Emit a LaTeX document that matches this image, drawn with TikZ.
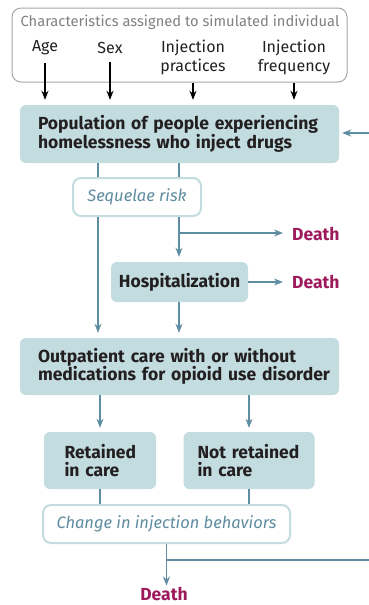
\documentclass[tikz,border=0pt]{standalone}
\usepackage{fontspec}
\setmainfont{Fira Sans}
\usetikzlibrary{arrows.meta,positioning}
\definecolor{boxteal}{RGB}{194,220,224}
\definecolor{linkblue}{RGB}{94,140,160}
\definecolor{deathred}{RGB}{158,26,92}
\definecolor{inkgray}{RGB}{128,128,128}
\definecolor{inkdark}{RGB}{35,31,32}

\begin{document}
\begin{tikzpicture}[x=1pt, y=-1pt,
    stage/.style={fill=boxteal, rounded corners=6pt, inner ysep=0pt, text=inkdark,
      font=\bfseries\fontsize{17.5}{18.5}\selectfont},
    risk/.style={draw=boxteal, line width=2pt, fill=white, rounded corners=8pt,
      inner sep=0pt, text=linkblue, font=\itshape\fontsize{16.5}{18}\selectfont},
    trait/.style={inner sep=0pt, text=inkdark, align=center,
      font=\fontsize{16}{19}\selectfont},
    death/.style={inner sep=0pt, text=deathred, font=\bfseries\fontsize{17.5}{18}\selectfont},
    link/.style={draw=linkblue, line width=1.3pt},
    flow/.style={link, -{Stealth[length=9pt,width=7pt]}},
    feed/.style={draw=black, line width=1.3pt, -{Stealth[length=9pt,width=7pt]}}]
  \useasboundingbox (0,0) rectangle (369,605);

  % Characteristics frame
  \node[draw=inkgray!70, line width=1pt, rounded corners=9pt, minimum width=335pt,
    minimum height=74pt] (chars) at (179.5,45) {};
  \node[inner sep=0pt, text=inkgray, font=\fontsize{14.7}{16}\selectfont] (title) at (180,22)
    {Characteristics assigned to simulated individual};
  \node[trait] (age) at (45,48) {Age};
  \node[trait] (sex) at (110,48) {Sex};
  \node[trait] (prac) at (193,57) {Injection\\practices};
  \node[trait] (freq) at (294,57) {Injection\\frequency};

  % Main stages
  \node[stage, minimum width=319pt, minimum height=58pt, text width=283pt, inner xsep=18pt,
    align=left] (pop) at (179.5,134) {Population of people experiencing\\homelessness who inject drugs};
  \node[risk, minimum width=128pt, minimum height=38pt] (seq) at (137,197) {Sequelae risk};
  \node[stage, minimum width=137pt, minimum height=40pt] (hosp) at (179.5,282) {Hospitalization};
  \node[stage, minimum width=319pt, minimum height=57pt, text width=283pt, inner xsep=18pt,
    align=left] (out) at (179.5,366.5) {Outpatient care with or without\\\mbox{medications for opioid use disorder}};
  \node[stage, minimum width=112pt, minimum height=57pt, text width=71pt, inner xsep=20.5pt,
    align=left] (ret) at (100,460.5) {Retained\\in care};
  \node[stage, minimum width=131pt, minimum height=57pt, text width=103pt, inner xsep=14pt,
    align=left] (notret) at (249,460.5) {Not retained\\in care};
  \node[risk, minimum width=247pt, minimum height=38pt] (chg) at (166.5,524) {Change in injection behaviors};

  % Deaths
  \node[death, anchor=west] (death1) at (292,234) {Death};
  \node[death, anchor=west] (death2) at (292,282) {Death};
  \node[death] (death3) at (164,594.5) {Death};

  % Helper points
  \coordinate (xl) at (98,0);
  \coordinate (xr) at (179,0);
  \coordinate (split1) at (179,233);
  \coordinate (split2) at (166.5,560);
  \coordinate (rimlow) at (369,560);
  \coordinate (rimhigh) at (369,133);

  % Characteristic arrows
  \foreach \t in {age, sex, prac, freq}
    \draw[feed, shorten <=8pt, shorten >=5pt] (\t.south) -- (\t.south |- pop.north);

  % Connectors
  \draw[link] (pop.south -| xl) -- (seq.north -| xl);
  \draw[link] (pop.south -| xr) -- (seq.north -| xr);
  \draw[flow, shorten >=5pt] (seq.south -| xl) -- (out.north -| xl);
  \draw[flow, shorten >=5pt] (seq.south -| xr) -- (hosp.north -| xr);
  \draw[flow, shorten >=9pt] (split1) -- (death1.west |- split1);
  \draw[flow, shorten >=9pt] (hosp.east) -- (death2.west |- hosp.east);
  \draw[flow, shorten >=5pt] (hosp.south -| xr) -- (out.north -| xr);
  \draw[flow, shorten >=4pt] (out.south -| ret) -- (ret.north);
  \draw[flow, shorten >=4pt] (out.south -| notret) -- (notret.north);
  \draw[link] (ret.south) -- (chg.north -| ret);
  \draw[link] (notret.south) -- (chg.north -| notret);
  \draw[flow, shorten >=2pt] (chg.south) -- (chg.south |- death3.north);
  \draw[link] (split2) -- (rimlow);
  \draw[flow, shorten >=3pt] (rimhigh) -- (pop.east |- rimhigh);
\end{tikzpicture}
\end{document}
